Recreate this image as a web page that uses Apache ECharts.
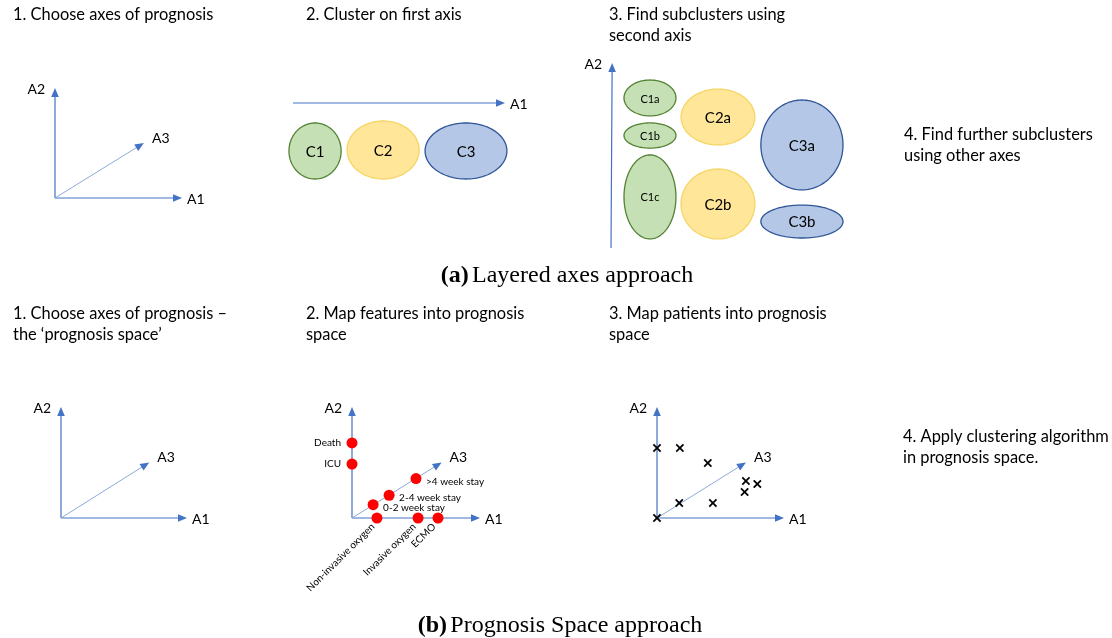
<!DOCTYPE html>
<html>
<head>
<meta charset="utf-8">
<script src="https://cdn.jsdelivr.net/npm/echarts@6/dist/echarts.min.js"></script>
<style>html,body{margin:0;padding:0;background:#fff}#c{width:1112px;height:638px}</style>
</head>
<body>
<div id="c"></div>
<script>
// ---------- DATA (diagram units on each panel's own axes, 0..10) ----------
// prognosis axes A1, A2, A3 (A3 drawn obliquely)
const axisNames = ['A1', 'A2', 'A3'];
const axisTips = [[10, 0], [0, 10], [7, 5]];

// (a) step 2: clusters on first axis
const a2Axis = [[0, 10, 10, 10]];
const a2AxisNames = ['A1'];
const a2Names = ['C1', 'C2', 'C3'];
const a2Centers = [[1.04, 3.77], [4.25, 3.9], [8.16, 3.77]];
const a2Radii = [[1.23, 3.64], [1.70, 3.77], [1.93, 3.64]];

// (a) step 3: subclusters using second axis
const a3Axis = [[0, 0, 0.05, 10]];
const a3AxisNames = ['A2'];
const a3Names = ['C1a', 'C1b', 'C1c', 'C2a', 'C2b', 'C3a', 'C3b'];
const a3Centers = [[1.68, 8.11], [1.68, 6.08], [1.68, 2.76], [4.61, 7.08], [4.61, 2.38], [8.23, 5.57], [8.23, 1.43]];
const a3Radii = [[1.12, 0.97], [1.12, 0.68], [1.12, 2.27], [1.59, 1.51], [1.59, 1.89], [1.77, 2.43], [1.77, 0.89]];

// (b) step 2: features mapped into prognosis space
const featureNames = ['Death', 'ICU', 'Non-invasive oxygen', 'Invasive oxygen', 'ECMO', '0-2 week stay', '2-4 week stay', '>4 week stay'];
const featurePoints = [[0, 6.76], [0, 4.86], [1.95, 0], [5.16, 0], [6.72, 0], [1.65, 1.2], [2.9, 2.05], [5.0, 3.55]];

// (b) step 3: patients mapped into prognosis space
const patientPoints = [[0, 6.3], [1.8, 6.3], [4.0, 4.95], [7.0, 3.33], [7.9, 3.06], [6.9, 2.34], [1.75, 1.35], [4.4, 1.35], [0, 0]];

// ---------- STYLE ----------
const SANS = 'Lato, "Noto Sans", sans-serif';
const SERIF = '"Liberation Serif", "DejaVu Serif", serif';
const AX = '#4472C4';
const AX_LIGHT = '#8EA9DB';
const clusterStyle = {
  C1: { fill: '#C5E0B4', stroke: '#548235' },
  C2: { fill: '#FFE699', stroke: '#F5D565' },
  C3: { fill: '#B4C7E7', stroke: '#2F5597' }
};

const grids = [
  { left: 55, top: 88, width: 127, height: 110 },   // a1
  { left: 293, top: 103, width: 212, height: 77 },  // a2
  { left: 611, top: 63, width: 232, height: 185 },  // a3
  { left: 61, top: 407, width: 126, height: 111 },  // b1
  { left: 352, top: 407, width: 128, height: 111 }, // b2
  { left: 657, top: 407, width: 127, height: 111 }  // b3
];
const xAxes = grids.map((g, i) => ({ gridIndex: i, type: 'value', min: 0, max: 10, show: false }));
const yAxes = grids.map((g, i) => ({ gridIndex: i, type: 'value', min: 0, max: 10, show: false }));

function arrowRender(names, lightIdx, labelFont) {
  return function (params, api) {
    const p0 = api.coord([api.value(0), api.value(1)]);
    const p1 = api.coord([api.value(2), api.value(3)]);
    const light = params.dataIndex === lightIdx;
    const color = light ? AX_LIGHT : AX;
    const dx = p1[0] - p0[0], dy = p1[1] - p0[1];
    const L = Math.hypot(dx, dy);
    const ux = dx / L, uy = dy / L;
    const hl = 9, hw = 3.8;
    const bx = p1[0] - ux * hl, by = p1[1] - uy * hl;
    const name = names[params.dataIndex];
    let tx, ty, align;
    if (Math.abs(uy) < 0.2) { tx = p1[0] + 5; ty = p1[1] + 1; align = 'left'; }
    else if (Math.abs(ux) < 0.2) { tx = p1[0] - 10; ty = p1[1] + 1; align = 'right'; }
    else { tx = p1[0] + 8; ty = p1[1] - 5; align = 'left'; }
    return {
      type: 'group',
      children: [
        { type: 'line', shape: { x1: p0[0], y1: p0[1], x2: bx + ux, y2: by + uy }, style: { stroke: color, lineWidth: light ? 1 : 1.2 } },
        { type: 'polygon', shape: { points: [[p1[0], p1[1]], [bx - uy * hw, by + ux * hw], [bx + uy * hw, by - ux * hw]] }, style: { fill: AX } },
        { type: 'text', x: tx, y: ty, style: { text: name, font: labelFont || ('14px ' + SANS), fill: '#000', align: align, verticalAlign: 'middle' } }
      ]
    };
  };
}

function prognosisAxesSeries(gi) {
  return {
    type: 'custom', xAxisIndex: gi, yAxisIndex: gi, clip: false, silent: true,
    data: axisTips.map(t => [0, 0, t[0], t[1]]),
    renderItem: arrowRender(axisNames, 2)
  };
}

function ellipseRender(names, centers, radii, fontFor) {
  return function (params, api) {
    const i = params.dataIndex;
    const c = api.coord([centers[i][0], centers[i][1]]);
    const s = api.size([radii[i][0], radii[i][1]]);
    const pts = [];
    for (let k = 0; k < 120; k++) {
      const a = k / 120 * Math.PI * 2;
      pts.push([c[0] + s[0] * Math.cos(a), c[1] + s[1] * Math.sin(a)]);
    }
    const st = clusterStyle[names[i].slice(0, 2)];
    return {
      type: 'group',
      children: [
        { type: 'polygon', shape: { points: pts }, style: { fill: st.fill, stroke: st.stroke, lineWidth: 1.3 } },
        { type: 'text', x: c[0], y: c[1] + 1, style: { text: names[i], font: fontFor(names[i]), fill: '#000', align: 'center', verticalAlign: 'middle' } }
      ]
    };
  };
}

const series = [
  prognosisAxesSeries(0),
  // a2
  {
    type: 'custom', xAxisIndex: 1, yAxisIndex: 1, clip: false, silent: true,
    data: a2Axis, renderItem: arrowRender(a2AxisNames, -1)
  },
  {
    type: 'custom', xAxisIndex: 1, yAxisIndex: 1, clip: false, silent: true,
    data: a2Names.map((n, i) => a2Centers[i]),
    renderItem: ellipseRender(a2Names, a2Centers, a2Radii, () => '15px ' + SANS)
  },
  // a3
  {
    type: 'custom', xAxisIndex: 2, yAxisIndex: 2, clip: false, silent: true,
    data: a3Axis, renderItem: arrowRender(a3AxisNames, -1)
  },
  {
    type: 'custom', xAxisIndex: 2, yAxisIndex: 2, clip: false, silent: true,
    data: a3Names.map((n, i) => a3Centers[i]),
    renderItem: ellipseRender(a3Names, a3Centers, a3Radii, n => n.startsWith('C1') ? ('11px ' + SANS) : ('15px ' + SANS))
  },
  // b1, b2, b3 axes
  prognosisAxesSeries(3),
  prognosisAxesSeries(4),
  prognosisAxesSeries(5),
  // features
  {
    type: 'custom', xAxisIndex: 4, yAxisIndex: 4, clip: false, silent: true,
    data: featurePoints,
    renderItem: function (params, api) {
      const i = params.dataIndex;
      const p = api.coord([api.value(0), api.value(1)]);
      const v = featurePoints[i];
      let txt;
      const font = '10px ' + SANS;
      if (v[0] === 0) {
        txt = { type: 'text', x: p[0] - 11, y: p[1], style: { text: featureNames[i], font: font, fill: '#000', align: 'right', verticalAlign: 'middle' } };
      } else if (v[1] === 0) {
        txt = { type: 'text', x: p[0] - 4, y: p[1] + 7, rotation: Math.PI / 4, style: { text: featureNames[i], font: font, fill: '#000', align: 'right', verticalAlign: 'middle' } };
      } else {
        txt = { type: 'text', x: p[0] + 10, y: p[1] + 3, style: { text: featureNames[i], font: font, fill: '#000', align: 'left', verticalAlign: 'middle' } };
      }
      return {
        type: 'group',
        children: [
          { type: 'circle', shape: { cx: p[0], cy: p[1], r: 5.5 }, style: { fill: '#FF0000' } },
          txt
        ]
      };
    }
  },
  // patients
  {
    type: 'custom', xAxisIndex: 5, yAxisIndex: 5, clip: false, silent: true,
    data: patientPoints,
    renderItem: function (params, api) {
      const p = api.coord([api.value(0), api.value(1)]);
      const h = 3.6;
      const st = { stroke: '#000', lineWidth: 1.8 };
      return {
        type: 'group',
        children: [
          { type: 'line', shape: { x1: p[0] - h, y1: p[1] - h, x2: p[0] + h, y2: p[1] + h }, style: st },
          { type: 'line', shape: { x1: p[0] - h, y1: p[1] + h, x2: p[0] + h, y2: p[1] - h }, style: st }
        ]
      };
    }
  }
];

function titleText(x, yCenter, text) {
  return {
    type: 'text', x: x, y: yCenter - 10.5, silent: true,
    style: { text: text, font: '16.4px ' + SANS, fill: '#000', lineHeight: 21, verticalAlign: 'top', align: 'left' }
  };
}
function caption(x, y, tag, text) {
  return {
    type: 'text', x: x, y: y, silent: true,
    style: {
      text: '{b|' + tag + '} {r|' + text + '}',
      align: 'center', verticalAlign: 'middle',
      rich: {
        b: { fontFamily: SERIF, fontSize: 24, fontWeight: 'bold', fill: '#000' },
        r: { fontFamily: SERIF, fontSize: 24, fill: '#000' }
      }
    }
  };
}

const graphic = [
  titleText(13, 15, '1. Choose axes of prognosis'),
  titleText(306, 15, '2. Cluster on first axis'),
  titleText(609, 15, '3. Find subclusters using\nsecond axis'),
  titleText(904, 135, '4. Find further subclusters\nusing other axes'),
  caption(567, 276, '(a)', 'Layered axes approach'),
  titleText(13, 314, '1. Choose axes of prognosis \u2013\nthe \u2018prognosis space\u2019'),
  titleText(306, 314, '2. Map features into prognosis\nspace'),
  titleText(609, 314, '3. Map patients into prognosis\nspace'),
  titleText(903, 437, '4. Apply clustering algorithm\nin prognosis space.'),
  caption(560, 626, '(b)', 'Prognosis Space approach')
];

const chart = echarts.init(document.getElementById('c'));
chart.setOption({
  animation: false,
  backgroundColor: '#fff',
  grid: grids,
  xAxis: xAxes,
  yAxis: yAxes,
  series: series,
  graphic: graphic
});
</script>
</body>
</html>
